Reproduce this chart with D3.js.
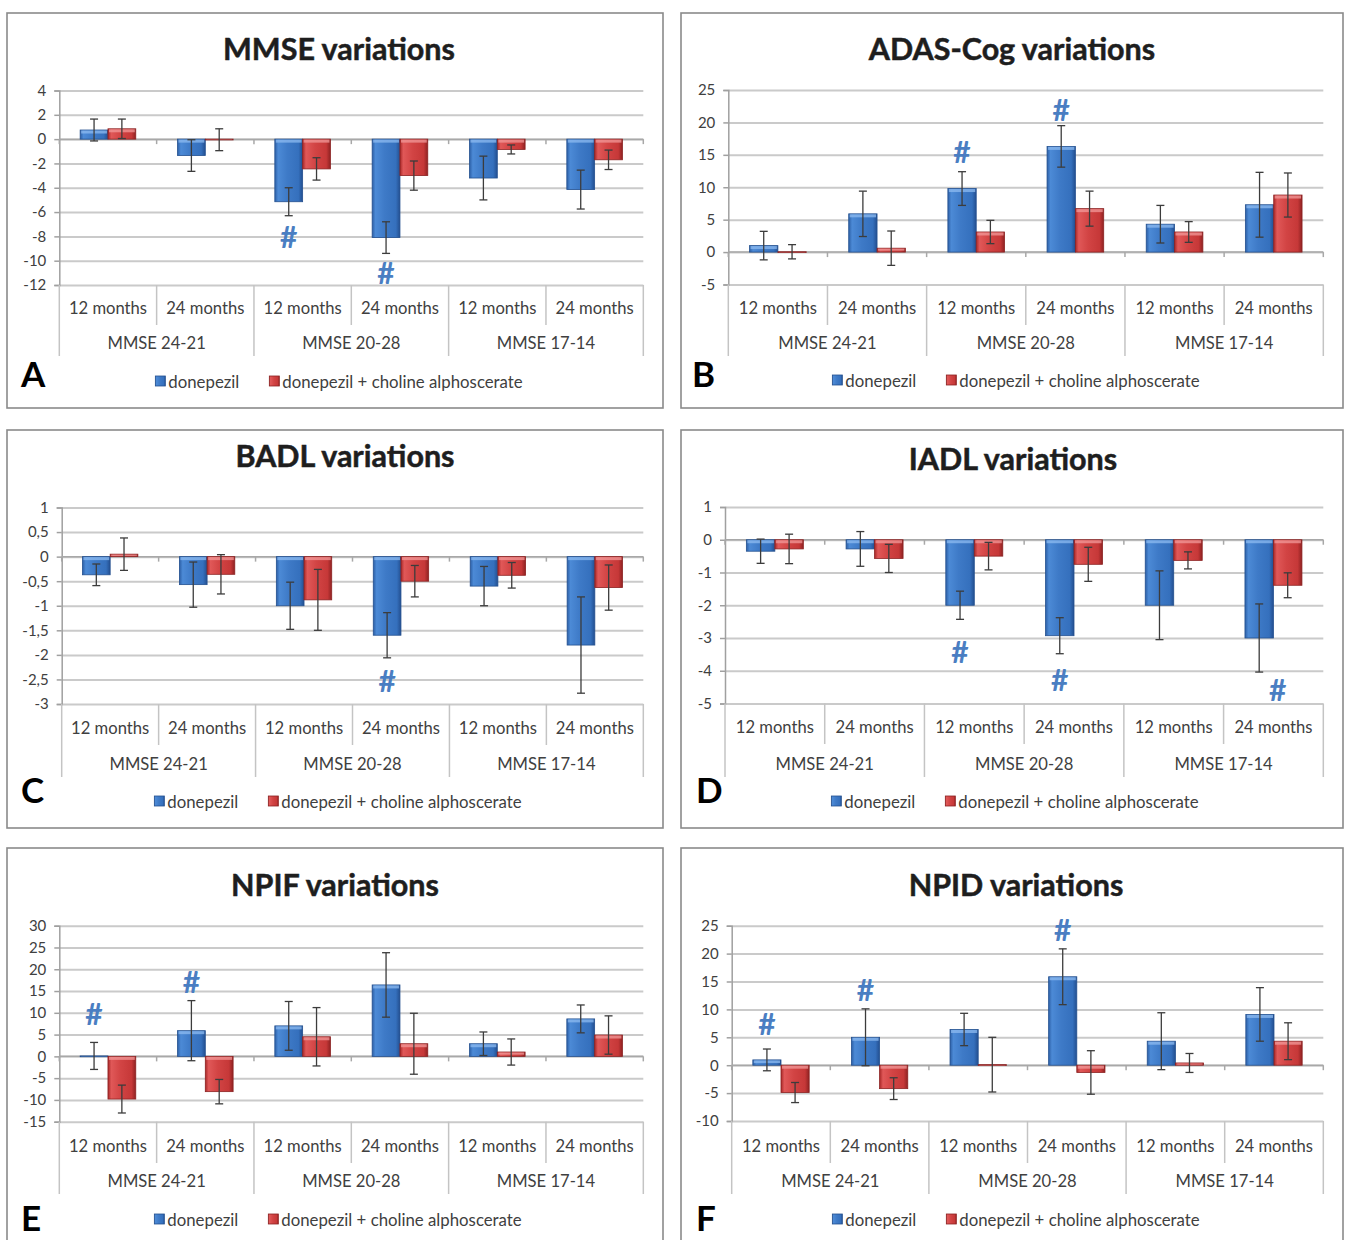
<!DOCTYPE html>
<html><head><meta charset="utf-8">
<script src="https://cdn.jsdelivr.net/npm/d3@7"></script>
<style>body{margin:0;background:#fff} svg{display:block}</style>
</head><body>
<svg id="c" width="1347" height="1240"></svg>
<script>
// ---------- DATA ----------
const months = ["12 months","24 months","12 months","24 months","12 months","24 months"];
const groups = ["MMSE 24-21","MMSE 20-28","MMSE 17-14"];
const seriesNames = ["donepezil","donepezil + choline alphoscerate"];
const titles = ["MMSE variations","ADAS-Cog variations","BADL variations","IADL variations","NPIF variations","NPID variations"];
const letters = ["A","B","C","D","E","F"];

const mmseTicks = [4,2,0,-2,-4,-6,-8,-10,-12];
const mmseDonepezil = [0.75,-1.35,-5.15,-8.1,-3.2,-4.15];
const mmseDonepezilErr = [0.9,1.3,1.15,1.3,1.8,1.6];
const mmseCombo = [0.85,-0.05,-2.45,-3.0,-0.85,-1.7];
const mmseComboErr = [0.8,0.9,0.92,1.2,0.37,0.8];
const mmseSig = [[2,-0.5,-8.0],[3,-0.5,-10.9]];

const adasTicks = [25,20,15,10,5,0,-5];
const adasDonepezil = [1.0,5.9,9.8,16.3,4.3,7.3];
const adasDonepezilErr = [2.2,3.5,2.6,3.2,2.9,5.0];
const adasCombo = [0.05,0.6,3.1,6.7,3.1,8.8];
const adasComboErr = [1.1,2.65,1.8,2.7,1.6,3.4];
const adasSig = [[2,-0.5,15.6],[3,-0.5,22.1]];

const badlTicks = [1,0.5,0,-0.5,-1,-1.5,-2,-2.5,-3];
const badlDonepezil = [-0.37,-0.57,-1.0,-1.6,-0.6,-1.8];
const badlDonepezilErr = [0.22,0.46,0.48,0.46,0.4,0.98];
const badlCombo = [0.05,-0.36,-0.88,-0.5,-0.38,-0.63];
const badlComboErr = [0.33,0.4,0.62,0.32,0.26,0.46];
const badlSig = [[3,-0.5,-2.52]];

const iadlTicks = [1,0,-1,-2,-3,-4,-5];
const iadlDonepezil = [-0.35,-0.28,-2.0,-2.93,-2.0,-3.0];
const iadlDonepezilErr = [0.37,0.53,0.43,0.55,1.05,1.04];
const iadlCombo = [-0.28,-0.57,-0.5,-0.75,-0.63,-1.39];
const iadlComboErr = [0.45,0.43,0.42,0.52,0.26,0.38];
const iadlSig = [[2,-0.5,-3.4],[3,-0.5,-4.25],[5,0.15,-4.55]];

const npifTicks = [30,25,20,15,10,5,0,-5,-10,-15];
const npifDonepezil = [0.1,5.9,7.0,16.4,2.9,8.6];
const npifDonepezilErr = [3.1,6.9,5.6,7.4,2.7,3.2];
const npifCombo = [-9.8,-8.1,4.5,2.9,1.0,4.9];
const npifComboErr = [3.2,2.8,6.7,7.0,3.0,4.4];
const npifSig = [[0,-0.5,10.0],[1,-0.5,17.2]];

const npidTicks = [25,20,15,10,5,0,-5,-10];
const npidDonepezil = [0.95,5.0,6.4,15.85,4.3,9.1];
const npidDonepezilErr = [1.95,5.1,2.9,5.0,5.1,4.8];
const npidCombo = [-4.9,-4.2,0.1,-1.3,0.4,4.3];
const npidComboErr = [1.8,1.95,4.9,3.9,1.7,3.3];
const npidSig = [[0,-0.5,7.6],[1,-0.5,13.7],[3,-0.5,24.4]];

// ---------- LAYOUT ----------
const layouts = [
 {box:[7,13,656,395], l:59.3, r:643.3, t:90.5, b:285, mY:308, gY:343, lgY:381, lgX:339, tX:339, tY:48, ltX:21, ltY:387},
 {box:[681,13,662,395], l:728.3, r:1323.3, t:90, b:284.5, mY:308, gY:343, lgY:380, lgX:1016, tX:1012, tY:48, ltX:692, ltY:387},
 {box:[7,430,656,398], l:61.7, r:643.3, t:507.5, b:704, mY:728, gY:764, lgY:801, lgX:338, tX:345, tY:455, ltX:21, ltY:803},
 {box:[681,430,662,398], l:725, r:1323.3, t:507, b:703.5, mY:727, gY:764, lgY:801, lgX:1015, tX:1013, tY:458, ltX:696, ltY:803},
 {box:[7,848,656,400], l:59.3, r:643.3, t:925.7, b:1121.7, mY:1146, gY:1181, lgY:1219, lgX:338, tX:335, tY:884, ltX:21, ltY:1231},
 {box:[681,848,662,400], l:731.7, r:1323.3, t:925.7, b:1121, mY:1146, gY:1181, lgY:1219, lgX:1016, tX:1016, tY:884, ltX:696, ltY:1231}
];

const fmtDot = v => String(v);
const fmtComma = v => String(v).replace(".", ",");

const panels = [
 {ticks:mmseTicks, don:mmseDonepezil, donErr:mmseDonepezilErr, cho:mmseCombo, choErr:mmseComboErr, sig:mmseSig, fmt:fmtDot},
 {ticks:adasTicks, don:adasDonepezil, donErr:adasDonepezilErr, cho:adasCombo, choErr:adasComboErr, sig:adasSig, fmt:fmtDot},
 {ticks:badlTicks, don:badlDonepezil, donErr:badlDonepezilErr, cho:badlCombo, choErr:badlComboErr, sig:badlSig, fmt:fmtComma},
 {ticks:iadlTicks, don:iadlDonepezil, donErr:iadlDonepezilErr, cho:iadlCombo, choErr:iadlComboErr, sig:iadlSig, fmt:fmtDot},
 {ticks:npifTicks, don:npifDonepezil, donErr:npifDonepezilErr, cho:npifCombo, choErr:npifComboErr, sig:npifSig, fmt:fmtDot},
 {ticks:npidTicks, don:npidDonepezil, donErr:npidDonepezilErr, cho:npidCombo, choErr:npidComboErr, sig:npidSig, fmt:fmtDot}
];

// ---------- DRAW ----------
const FONT = "Lato, 'Open Sans', sans-serif";
const svg = d3.select("#c");
const defs = svg.append("defs");
function grad(id, stops){
  const g = defs.append("linearGradient").attr("id", id).attr("x1",0).attr("y1",0).attr("x2",1).attr("y2",0);
  stops.forEach(([o,c]) => g.append("stop").attr("offset",o).attr("stop-color",c));
}
grad("gBlue", [[0,"#2C5FA6"],[0.12,"#4C8AD6"],[0.45,"#3E7AC7"],[0.85,"#3570BD"],[1,"#234F90"]]);
grad("gRed", [[0,"#A82828"],[0.12,"#E05858"],[0.45,"#D24444"],[0.85,"#C63838"],[1,"#8F2222"]]);
const fills = ["url(#gBlue)","url(#gRed)"];
const strokes = ["#24508F","#8C2222"];
const highlights = ["#8DBBF0","#F29A9A"];

panels.forEach((p, pi) => {
  const L = layouts[pi];
  const g = svg.append("g");
  g.append("rect").attr("x",L.box[0]).attr("y",L.box[1]).attr("width",L.box[2]).attr("height",L.box[3])
    .attr("fill","#fff").attr("stroke","#8a8a8a").attr("stroke-width",1.6);

  const y = d3.scaleLinear().domain([d3.min(p.ticks), d3.max(p.ticks)]).range([L.b, L.t]);
  const x = d3.scaleBand().domain(d3.range(months.length)).range([L.l, L.r]).paddingInner(0).paddingOuter(0);
  const band = x.bandwidth();
  const bw = band / 3.5;

  // gridlines
  g.append("g").attr("transform", `translate(${L.l},0)`)
    .call(d3.axisLeft(y).tickValues(p.ticks).tickSize(-(L.r - L.l)).tickFormat(""))
    .call(a => { a.select(".domain").remove(); a.selectAll("line").attr("stroke","#CACACA").attr("stroke-width",2); });

  // y axis
  const ya = g.append("g").attr("transform", `translate(${L.l},0)`)
    .call(d3.axisLeft(y).tickValues(p.ticks).tickSize(5).tickPadding(8).tickFormat(p.fmt));
  ya.select(".domain").attr("stroke","#A0A0A0").attr("stroke-width",1.5);
  ya.selectAll(".tick line").attr("stroke","#A0A0A0").attr("stroke-width",1.5);
  ya.selectAll("text").attr("font-family",FONT).attr("font-size",15).attr("fill","#404040");

  // zero axis with ticks
  g.append("line").attr("x1",L.l).attr("x2",L.r).attr("y1",y(0)).attr("y2",y(0))
    .attr("stroke","#A8A8A8").attr("stroke-width",1.5);
  g.selectAll(".zt").data(d3.range(months.length + 1)).join("line")
    .attr("x1", k => L.l + k*band).attr("x2", k => L.l + k*band)
    .attr("y1", y(0)).attr("y2", y(0) + 5).attr("stroke","#A8A8A8").attr("stroke-width",1.5);

  // bars
  const series = [[p.don, p.donErr],[p.cho, p.choErr]];
  series.forEach(([vals, errs], si) => {
    const bx = i => x(i) + band/2 - bw + si*bw;
    g.selectAll(".bar"+si).data(vals).join("rect")
      .attr("x", (d,i) => bx(i)).attr("width", bw)
      .attr("y", d => Math.min(y(d), y(0)))
      .attr("height", d => Math.max(0.8, Math.abs(y(d) - y(0))))
      .attr("fill", fills[si]).attr("stroke", strokes[si]).attr("stroke-width", 0.8);
    g.selectAll(".hl"+si).data(vals).join("rect")
      .attr("x", (d,i) => bx(i) + 1).attr("width", bw - 2)
      .attr("y", d => Math.min(y(d), y(0)) + 0.5)
      .attr("height", d => Math.min(3, Math.abs(y(d) - y(0)) * 0.5))
      .attr("fill", highlights[si]).attr("opacity", 0.75);
    // error bars
    const eg = g.append("g").attr("stroke","#3C3C3C").attr("stroke-width",1.3);
    vals.forEach((v, i) => {
      const cx = bx(i) + bw/2, e = errs[i];
      eg.append("line").attr("x1",cx).attr("x2",cx).attr("y1",y(v+e)).attr("y2",y(v-e));
      eg.append("line").attr("x1",cx-4).attr("x2",cx+4).attr("y1",y(v+e)).attr("y2",y(v+e));
      eg.append("line").attr("x1",cx-4).attr("x2",cx+4).attr("y1",y(v-e)).attr("y2",y(v-e));
    });
  });

  // significance marks
  g.selectAll(".sig").data(p.sig).join("text")
    .attr("x", d => x(d[0]) + band/2 + d[1]*bw).attr("y", d => y(d[2]))
    .attr("text-anchor","middle").attr("dominant-baseline","central")
    .attr("font-family",FONT).attr("font-weight","bold").attr("font-size",30).attr("fill","#4A7EC2")
    .text("#");

  // category labels
  g.selectAll(".sep").data(d3.range(months.length + 1)).join("line")
    .attr("x1", k => L.l + k*band).attr("x2", k => L.l + k*band)
    .attr("y1", L.b).attr("y2", k => k % 2 === 0 ? L.gY + 13 : L.mY + 17)
    .attr("stroke","#C4C4C4").attr("stroke-width",1.5);
  g.selectAll(".ml").data(months).join("text")
    .attr("x", (d,i) => x(i) + band/2).attr("y", L.mY)
    .attr("text-anchor","middle").attr("dominant-baseline","central")
    .attr("font-family",FONT).attr("font-size",16.6).attr("fill","#404040").text(d => d);
  g.selectAll(".gl").data(groups).join("text")
    .attr("x", (d,i) => L.l + (2*i + 1)*band).attr("y", L.gY)
    .attr("text-anchor","middle").attr("dominant-baseline","central")
    .attr("font-family",FONT).attr("font-size",16.6).attr("fill","#404040").text(d => d);

  // title and letter
  g.append("text").attr("x",L.tX).attr("y",L.tY).attr("text-anchor","middle").attr("dominant-baseline","central")
    .attr("font-family",FONT).attr("font-weight","bold").attr("font-size",30.5)
    .attr("fill","#1E1E1E").attr("stroke","#1E1E1E").attr("stroke-width",0.5).text(titles[pi]);
  g.append("text").attr("x",L.ltX).attr("y",L.ltY)
    .attr("font-family",FONT).attr("font-weight","bold").attr("font-size",35).attr("fill","#000").text(letters[pi]);

  // legend
  const lg = g.append("g");
  let cur = 0;
  seriesNames.forEach((name, si) => {
    lg.append("rect").attr("x",cur).attr("y",-5).attr("width",10).attr("height",10)
      .attr("fill",fills[si]).attr("stroke",strokes[si]).attr("stroke-width",0.8);
    const t = lg.append("text").attr("x",cur + 13).attr("y",0).attr("dominant-baseline","central")
      .attr("font-family",FONT).attr("font-size",16.8).attr("fill","#404040").text(name);
    cur += 13 + t.node().getComputedTextLength() + (si === 0 ? 30 : 0);
  });
  lg.attr("transform", `translate(${L.lgX - cur/2},${L.lgY})`);
});
</script>
</body></html>
